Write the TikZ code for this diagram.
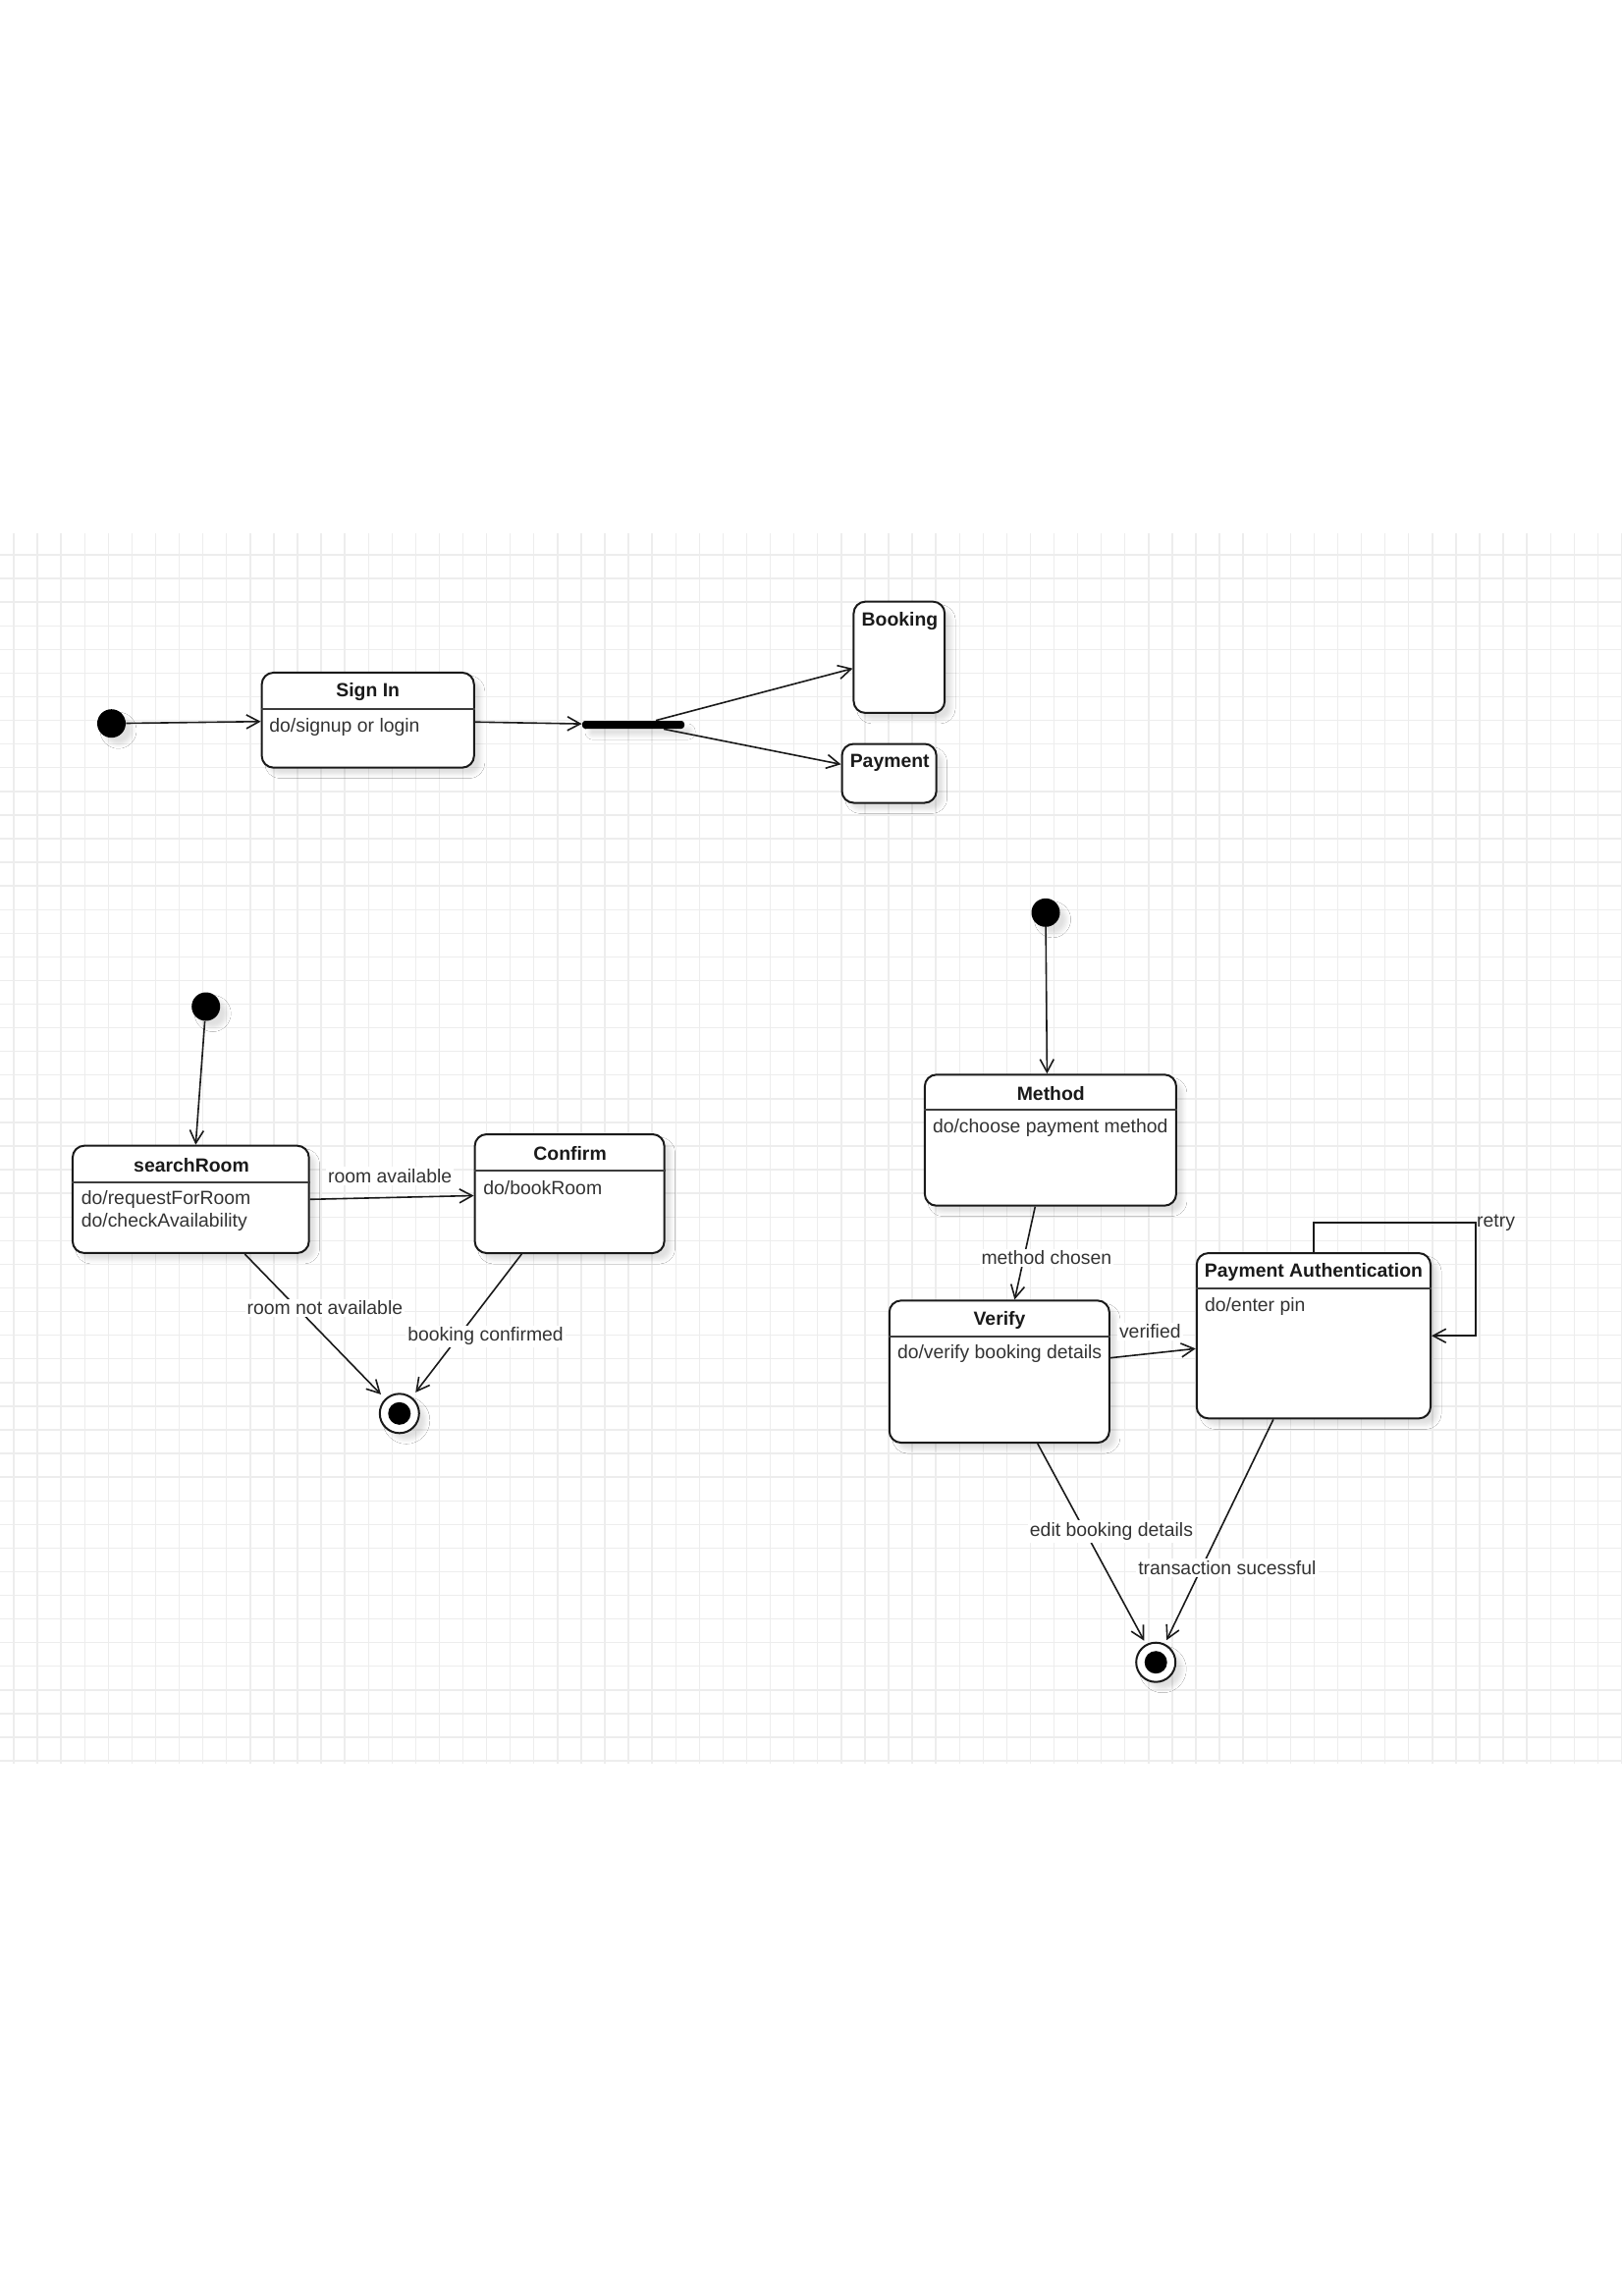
\documentclass[tikz,border=0pt]{standalone}
\usepackage{fontspec}
\setmainfont{Liberation Sans}
\usetikzlibrary{arrows.meta,calc,shadows.blur}

\definecolor{gridline}{HTML}{EDEDED}
\definecolor{ink}{HTML}{1A1A1A}
\definecolor{txt}{HTML}{333333}

\tikzset{
  softshadow/.style={blur shadow={shadow xshift=3.5pt, shadow yshift=-3.5pt,
      shadow blur radius=2pt, shadow opacity=12}},
  statebox/.style={draw=ink, line width=1pt, fill=white, rounded corners=6pt,
      inner sep=0pt, softshadow},
  titletext/.style={font=\fontsize{9.7pt}{11.3pt}\selectfont\bfseries, text=ink, inner sep=0pt},
  bodytext/.style={font=\fontsize{9.7pt}{11.3pt}\selectfont, text=txt, inner sep=0pt, align=left},
  edgelabel/.style={font=\fontsize{9.7pt}{11.3pt}\selectfont, text=txt, fill=white, inner sep=1pt},
  trans/.style={draw=ink, line width=0.8pt, -{Straight Barb[length=6.5pt,width=7pt]}},
  divider/.style={draw=ink!85, line width=0.9pt},
  initial/.style={circle, fill=black, minimum size=14.5pt, inner sep=0pt, softshadow},
  finalring/.style={circle, draw=ink, fill=white, minimum size=20pt, line width=1pt,
      inner sep=0pt, softshadow},
  finaldot/.style={circle, fill=black, minimum size=11.5pt, inner sep=0pt},
  gridrule/.style={draw=gridline, line width=0.7pt},
}

\begin{document}
\begin{tikzpicture}[x=0.5pt, y=-0.5pt]
  \useasboundingbox (0,0) rectangle (1652,2338);
  \fill[white] (0,0) rectangle (1652,2338);

  % background grid
  \foreach \i in {0,...,68}
    \draw[gridrule] ({14+24.08*\i},543) -- ({14+24.08*\i},1796);
  \foreach \j in {0,...,51}
    \draw[gridrule] (0,{565+24.08*\j}) -- (1652,{565+24.08*\j});

  % ---------- top: sign in and fork ----------
  \node[initial] (init1) at (113.5,736.7) {};
  \node[statebox, minimum width=108.1pt, minimum height=48.35pt] (signin) at (374.7,733.3) {};
  \draw[divider] ($(signin.north west)+(0,37.7)$) -- ($(signin.north east)+(0,37.7)$);
  \node[titletext] (signin-title) at (374.7,705) {Sign In};
  \node[bodytext, anchor=west] (signin-body) at (274,740) {do/signup or login};

  \node[fill=black, minimum width=52pt, minimum height=4pt, inner sep=0pt,
        rounded corners=1.5pt, softshadow] (fork) at (645,738) {};

  \node[statebox, minimum width=46.35pt, minimum height=56.65pt] (booking) at (915.8,669.3) {};
  \node[titletext] (booking-title) at (916.5,633) {Booking};
  \node[statebox, minimum width=48.1pt, minimum height=30pt] (payment) at (905.6,787.5) {};
  \node[titletext] (payment-title) at (906.2,777) {Payment};

  \draw[trans] (init1) -- (signin);
  \draw[trans] (signin) -- (fork);
  \draw[trans] ($(fork.north)+(23,0)$) -- ($(booking.west)+(0,11.4)$);
  \draw[trans] ($(fork.south)+(31,0)$) -- ($(payment.west)+(0,-9.2)$);

  % ---------- left: room search ----------
  \node[initial] (init2) at (209.7,1025) {};
  \node[statebox, minimum width=120.35pt, minimum height=54.65pt] (search) at (194.3,1221.3) {};
  \draw[divider] ($(search.north west)+(0,38.3)$) -- ($(search.north east)+(0,38.3)$);
  \node[titletext] (search-title) at (195,1186.7) {searchRoom};
  \node[bodytext, anchor=west] (search-body) at (82.4,1233) {do/requestForRoom\\do/checkAvailability};

  \node[statebox, minimum width=96.5pt, minimum height=60.5pt] (confirm) at (580.1,1215.5) {};
  \draw[divider] ($(confirm.north west)+(0,37.7)$) -- ($(confirm.north east)+(0,37.7)$);
  \node[titletext] (confirm-title) at (580.6,1175) {Confirm};
  \node[bodytext, anchor=west] (confirm-body) at (492,1210) {do/bookRoom};

  \node[finalring] (final1) at (406.8,1439.3) {};
  \node[finaldot] (final1-dot) at (final1) {};

  \draw[trans] (init2) -- ($(search.north)+(5,0)$);
  \draw[trans] (search.east) -- ($(confirm.west)+(0,2)$)
    node[edgelabel, midway, xshift=-1pt, yshift=11pt] {room available};
  \draw[trans, shorten >=3pt] ($(search.south)+(55,0)$) -- (final1)
    node[edgelabel, pos=0.373, xshift=14.15pt] {room not available};
  \draw[trans, shorten >=3pt] ($(confirm.south)+(-48.8,0)$) -- (final1)
    node[edgelabel, pos=0.575, xshift=13.75pt] {booking confirmed};

  % ---------- right: payment ----------
  \node[initial] (init3) at (1065,929.3) {};
  \node[statebox, minimum width=128.05pt, minimum height=66.7pt] (method) at (1069.9,1161) {};
  \draw[divider] ($(method.north west)+(0,36.7)$) -- ($(method.north east)+(0,36.7)$);
  \node[titletext] (method-title) at (1070.3,1114) {Method};
  \node[bodytext, anchor=west] (method-body) at (949.6,1148.3) {do/choose payment method};

  \node[statebox, minimum width=112.05pt, minimum height=72.35pt] (verify) at (1017.8,1396.7) {};
  \draw[divider] ($(verify.north west)+(0,37.7)$) -- ($(verify.north east)+(0,37.7)$);
  \node[titletext] (verify-title) at (1018,1344.3) {Verify};
  \node[bodytext, anchor=west] (verify-body) at (913.6,1378.3) {do/verify booking details};

  \node[statebox, minimum width=119.15pt, minimum height=84.15pt] (auth) at (1337.9,1360.2) {};
  \draw[divider] ($(auth.north west)+(0,37.3)$) -- ($(auth.north east)+(0,37.3)$);
  \node[titletext] (auth-title) at (1338,1295.7) {Payment Authentication};
  \node[bodytext, anchor=west] (auth-body) at (1226.6,1330) {do/enter pin};

  \node[finalring] (final2) at (1177.2,1692.7) {};
  \node[finaldot] (final2-dot) at (final2) {};

  \draw[trans] (init3) -- ($(method.north)+(-3.5,0)$);
  \draw[trans] ($(method.south)+(-15.6,0)$) -- ($(verify.north)+(15.6,0)$)
    node[edgelabel, pos=0.549, xshift=11.5pt] {method chosen};
  \draw[trans] ($(verify.east)+(0,-14)$) -- ($(auth.west)+(0,13.1)$)
    node[edgelabel, midway, xshift=-1.5pt, yshift=11pt] {verified};
  \draw[trans, shorten >=2pt] ($(verify.south)+(39,0)$) -- (final2)
    node[edgelabel, pos=0.438, xshift=13.4pt] {edit booking details};
  \draw[trans, shorten >=2pt] ($(auth.south)+(-41,0)$) -- (final2)
    node[edgelabel, pos=0.662, xshift=13.1pt] {transaction sucessful};

  \coordinate (retry-corner) at ($(auth.north east)+(44.7,-30)$);
  \draw[trans] (auth.north) |- (retry-corner) |- (auth.east);
  \node[edgelabel, fill=none, anchor=west, inner sep=0.5pt] (retry-label) at (retry-corner) {retry};
\end{tikzpicture}
\end{document}
